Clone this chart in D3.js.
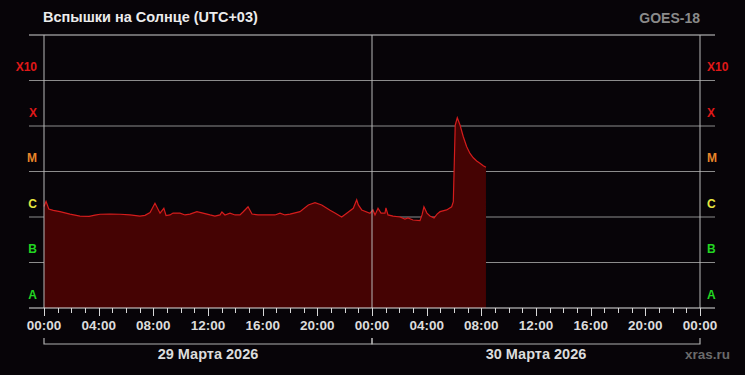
<!DOCTYPE html>
<html><head><meta charset="utf-8">
<script src="https://cdn.jsdelivr.net/npm/d3@7"></script>
<style>html,body{margin:0;padding:0;background:#070408;}svg{display:block;}</style>
</head><body>
<script>
// ---- data ----
const startDate = "2026-03-29T00:00:00";
const endDate = "2026-03-31T00:00:00";
const title = "Вспышки на Солнце (UTC+03)";
const satellite = "GOES-18";
const source = "xras.ru";
const dayLabels = ["29 Марта 2026", "30 Марта 2026"];
const classLabels = ["A", "B", "C", "M", "X", "X10"];
const classLevels = [1e-8, 1e-7, 1e-6, 1e-5, 1e-4, 1e-3];
const classColors = ["#22d622", "#22d622", "#e6e640", "#e8862a", "#e01818", "#e01818"];
// hours since 29 Mar 00:00 (UTC+03)
const hours = [0.00, 0.15, 0.35, 0.68, 1.17, 1.90, 2.63, 3.30, 3.73, 4.10, 4.83, 5.56, 6.29, 7.02, 7.39, 7.76,
  8.12, 8.49, 8.77, 8.93, 9.22, 9.44, 9.95, 10.32, 10.68, 11.19, 11.63, 12.15, 12.51, 12.88, 13.02, 13.24,
  13.61, 13.98, 14.34, 14.56, 14.93, 15.22, 15.66, 16.17, 16.54, 16.90, 17.27, 17.63, 18.00, 18.73, 19.34,
  19.83, 20.32, 20.93, 21.29, 21.78, 22.15, 22.63, 22.88, 23.00, 23.25, 23.85, 24.07, 24.22, 24.44, 24.66,
  24.95, 25.02, 25.17, 25.54, 26.05, 26.41, 26.63, 27.00, 27.51, 27.66, 27.80, 28.02, 28.24, 28.54, 28.76,
  28.98, 29.46, 29.83, 29.95, 30.09, 30.24, 30.44, 30.68, 30.93, 31.17, 31.41, 31.66, 31.90, 32.14, 32.34];
// X-ray flux, W/m^2
const flux = [1.7e-6, 2.2e-6, 1.5e-6, 1.40e-6, 1.31e-6, 1.16e-6, 1.05e-6, 1.03e-6, 1.10e-6, 1.15e-6, 1.16e-6, 1.15e-6, 1.11e-6, 1.05e-6, 1.09e-6, 1.25e-6,
  2.0e-6, 1.21e-6, 1.55e-6, 1.08e-6, 1.11e-6, 1.22e-6, 1.22e-6, 1.11e-6, 1.16e-6, 1.31e-6, 1.22e-6, 1.11e-6, 1.05e-6, 1.11e-6, 1.29e-6, 1.11e-6,
  1.22e-6, 1.11e-6, 1.11e-6, 1.29e-6, 1.68e-6, 1.16e-6, 1.11e-6, 1.11e-6, 1.12e-6, 1.11e-6, 1.22e-6, 1.11e-6, 1.16e-6, 1.31e-6, 1.84e-6,
  2.06e-6, 1.84e-6, 1.40e-6, 1.22e-6, 1.0e-6, 1.21e-6, 1.55e-6, 2.4e-6, 1.84e-6, 1.43e-6, 1.21e-6, 1.43e-6, 1.11e-6, 1.55e-6, 1.22e-6,
  1.22e-6, 1.58e-6, 1.11e-6, 1.05e-6, 1.0e-6, 9.0e-7, 9.5e-7, 8.6e-7, 8.3e-7, 1.11e-6, 1.68e-6, 1.22e-6, 1.05e-6, 9.5e-7, 1.16e-6,
  1.31e-6, 1.43e-6, 1.68e-6, 2.17e-6, 1.05e-4, 1.52e-4, 1.05e-4, 5.8e-5, 3.5e-5, 2.5e-5, 2.0e-5, 1.70e-5, 1.51e-5, 1.34e-5, 1.24e-5];

// ---- chart ----
const W = 745, H = 375;
const m = {l: 44, r: 45, t: 35, b: 67};
const x0 = m.l, x1 = W - m.r, y0 = m.t, y1 = H - m.b;
const t0 = new Date(startDate), tEnd = new Date(endDate);
const data = hours.map((h, i) => ({t: new Date(t0.getTime() + h * 3600e3), v: flux[i]}));

const svg = d3.select("body").append("svg").attr("width", W).attr("height", H);
svg.append("rect").attr("width", W).attr("height", H).attr("fill", "#070408");

const x = d3.scaleTime().domain([t0, tEnd]).range([x0, x1]);
const y = d3.scaleLog().domain([1e-8, 1e-2]).range([y1, y0]);
const font = "'Liberation Sans', Arial, sans-serif";

// horizontal grid (behind data)
svg.append("g").selectAll("line").data(classLevels.slice(1).concat([1e-2])).join("line")
  .attr("x1", x0 - 15).attr("x2", x1 + 15)
  .attr("y1", d => y(d)).attr("y2", d => y(d))
  .attr("stroke", d => d === 1e-2 ? "#d0d0d0" : "#8c8c8c").attr("stroke-width", 1);

// area + line
const area = d3.area().x(d => x(d.t)).y0(y1).y1(d => y(d.v)).curve(d3.curveLinear);
const line = d3.line().x(d => x(d.t)).y(d => y(d.v)).curve(d3.curveLinear);
svg.append("path").datum(data).attr("d", area).attr("fill", "#450303");
svg.append("path").datum(data).attr("d", line).attr("fill", "none").attr("stroke", "#d41c1c").attr("stroke-width", 1.2);

// vertical lines at day boundaries
const days = d3.timeDay.range(t0, new Date(tEnd.getTime() + 1));
svg.append("g").selectAll("line").data(days).join("line")
  .attr("x1", d => x(d)).attr("x2", d => x(d)).attr("y1", y0).attr("y2", y1)
  .attr("stroke", "#b8b8b8").attr("stroke-width", 1);

// bottom axis
svg.append("line").attr("x1", x0 - 15).attr("x2", x1 + 15).attr("y1", y1).attr("y2", y1)
  .attr("stroke", "#e0e0e0").attr("stroke-width", 1.2);
const hourTicks = d3.timeHour.range(t0, new Date(tEnd.getTime() + 1));
svg.append("g").selectAll("line").data(hourTicks).join("line")
  .attr("x1", d => Math.round(x(d)) + 0.5).attr("x2", d => Math.round(x(d)) + 0.5)
  .attr("y1", y1).attr("y2", d => d.getHours() % 4 === 0 ? y1 + 8 : y1 + 5)
  .attr("stroke", "#d8d8d8").attr("stroke-width", 1);
const labelTicks = d3.timeHour.every(4).range(t0, new Date(tEnd.getTime() + 1));
svg.append("g").selectAll("text").data(labelTicks).join("text")
  .attr("x", d => x(d)).attr("y", y1 + 22).attr("text-anchor", "middle")
  .attr("font-family", font).attr("font-weight", "bold").attr("font-size", 13.5).attr("fill", "#dcdcdc")
  .text(d3.timeFormat("%H:%M"));

// day brackets
const dayStarts = days.slice(0, -1);
const br = svg.append("g").attr("stroke", "#b0b0b0").attr("fill", "none");
dayStarts.forEach((d, i) => {
  const a = x(d), b = x(d3.timeDay.offset(d, 1));
  br.append("path").attr("d", `M${a},${y1 + 30}V${y1 + 36}H${b}V${y1 + 30}`).attr("stroke-width", 1.2);
  svg.append("text").attr("x", (a + b) / 2).attr("y", y1 + 51).attr("text-anchor", "middle")
    .attr("font-family", font).attr("font-weight", "bold").attr("font-size", 14.5).attr("fill", "#dcdcdc")
    .text(dayLabels[i]);
});

// class labels
classLabels.forEach((c, i) => {
  const yy = y(classLevels[i]) - 9.5;
  [[x0 - 7, "end"], [x1 + 7, "start"]].forEach(([xx, anc]) => {
    svg.append("text").attr("x", xx).attr("y", yy).attr("text-anchor", anc)
      .attr("font-family", font).attr("font-weight", "bold").attr("font-size", 12)
      .attr("fill", classColors[i]).text(c);
  });
});

// titles
svg.append("text").attr("x", x0 - 1).attr("y", 22).attr("font-family", font).attr("font-weight", "bold")
  .attr("font-size", 14.5).attr("fill", "#ececec").text(title);
svg.append("text").attr("x", x1).attr("y", 23).attr("text-anchor", "end").attr("font-family", font)
  .attr("font-weight", "bold").attr("font-size", 14).attr("fill", "#8a8a8a").text(satellite);
svg.append("text").attr("x", 730).attr("y", 359).attr("text-anchor", "end").attr("font-family", font)
  .attr("font-weight", "bold").attr("font-size", 13.5).attr("fill", "#6a6a6a").text(source);
</script>
</body></html>
